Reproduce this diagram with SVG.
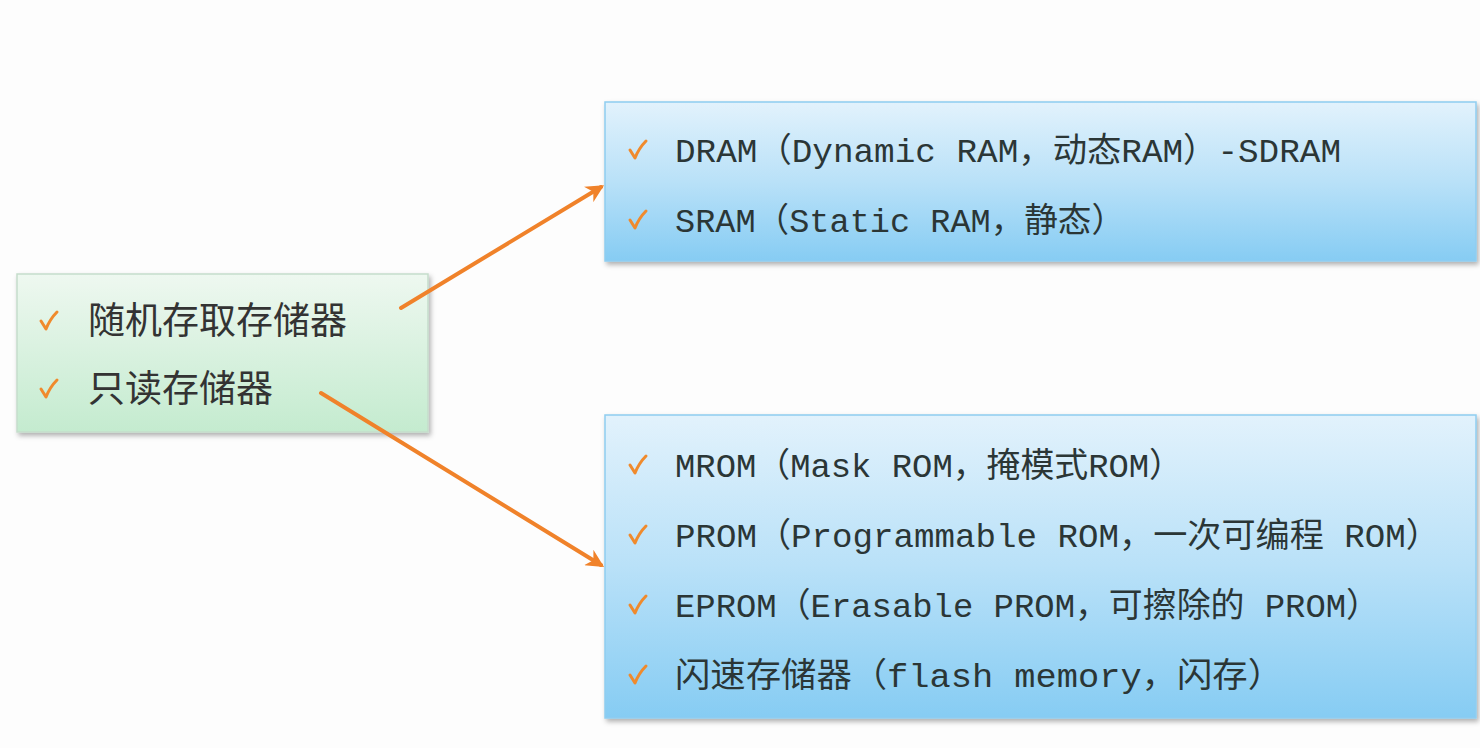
<svg xmlns="http://www.w3.org/2000/svg" xmlns:xlink="http://www.w3.org/1999/xlink" width="1480" height="748" viewBox="0 0 1480 748">
<defs>
<style>
.t{font-family:"Liberation Mono","Noto Sans CJK SC",monospace;font-size:34px;fill:#2b3636}
.tl{font-family:"Noto Sans CJK SC",sans-serif;font-size:37px;fill:#333}
.conn{stroke:#f0822a;stroke-width:4;fill:none;stroke-linecap:round}
.ckp{stroke:#f08a2c;stroke-width:3;fill:none;stroke-linecap:round;stroke-linejoin:round}
</style>
<linearGradient id="gb" x1="0" y1="0" x2="0" y2="1">
<stop offset="0" stop-color="#e2f2fc"/>
<stop offset="0.5" stop-color="#b9e1f8"/>
<stop offset="1" stop-color="#86ccf3"/>
</linearGradient>
<linearGradient id="gg" x1="0" y1="0" x2="0" y2="1">
<stop offset="0" stop-color="#eef8f0"/>
<stop offset="1" stop-color="#c4ebcf"/>
</linearGradient>
<filter id="sh" x="-5%" y="-10%" width="110%" height="125%">
<feDropShadow dx="2" dy="3" stdDeviation="2.5" flood-color="#000" flood-opacity="0.3"/>
</filter>
<marker id="ah" viewBox="0 0 10 10" refX="8" refY="5" markerWidth="4.5" markerHeight="4.5" orient="auto">
<path d="M0,0 L10,5 L0,10 L3,5 Z" fill="#f0822a"/>
</marker>
<path id="ck" class="ckp" d="M1,10 L6,18 Q10,8 17,1"/>
</defs>
<rect width="1480" height="748" fill="#fdfdfd"/>
<g id="node-left">
<rect x="17" y="274" width="411" height="158" fill="url(#gg)" stroke="#c5ddcb" stroke-width="1.5" filter="url(#sh)"/>
<use xlink:href="#ck" x="40" y="311"/>
<use xlink:href="#ck" x="40" y="379"/>
<text class="tl" x="88" y="334">随机存取存储器</text>
<text class="tl" x="88" y="402">只读存储器</text>
</g>
<g id="node-ram">
<rect x="605" y="102" width="871" height="159" fill="url(#gb)" stroke="#8fcdf0" stroke-width="1.5" filter="url(#sh)"/>
<use xlink:href="#ck" x="629" y="140"/>
<use xlink:href="#ck" x="629" y="210"/>
<text class="t" x="675" y="162" textLength="666" lengthAdjust="spacingAndGlyphs">DRAM（Dynamic RAM，动态RAM）-SDRAM</text>
<text class="t" x="675" y="232" textLength="450" lengthAdjust="spacingAndGlyphs">SRAM（Static RAM，静态）</text>
</g>
<g id="node-rom">
<rect x="605" y="415" width="871" height="303" fill="url(#gb)" stroke="#8fcdf0" stroke-width="1.5" filter="url(#sh)"/>
<use xlink:href="#ck" x="629" y="455"/>
<use xlink:href="#ck" x="629" y="525"/>
<use xlink:href="#ck" x="629" y="595"/>
<use xlink:href="#ck" x="629" y="665"/>
<text class="t" x="675" y="477" textLength="508" lengthAdjust="spacingAndGlyphs">MROM（Mask ROM，掩模式ROM）</text>
<text class="t" x="675" y="547" textLength="765" lengthAdjust="spacingAndGlyphs">PROM（Programmable ROM，一次可编程 ROM）</text>
<text class="t" x="675" y="617" textLength="705" lengthAdjust="spacingAndGlyphs">EPROM（Erasable PROM，可擦除的 PROM）</text>
<text class="t" x="675" y="687" textLength="608" lengthAdjust="spacingAndGlyphs">闪速存储器（flash memory，闪存）</text>
</g>
<g id="connectors">
<line class="conn" x1="401" y1="308" x2="601" y2="187" marker-end="url(#ah)"/>
<line class="conn" x1="321" y1="393" x2="601" y2="565" marker-end="url(#ah)"/>
</g>
</svg>
